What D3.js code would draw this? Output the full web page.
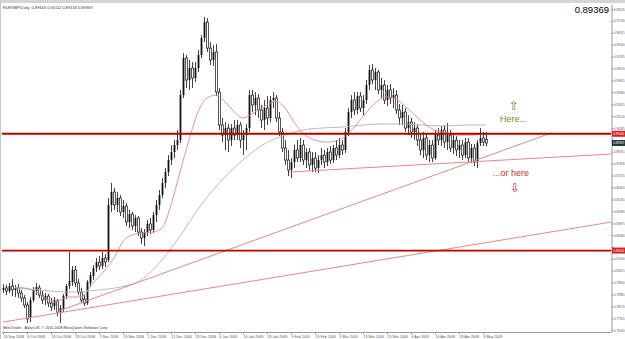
<!DOCTYPE html>
<html>
<head>
<meta charset="utf-8">
<script src="https://cdn.jsdelivr.net/npm/d3@7"></script>
<style>
  body { margin: 0; background: #fff; }
  svg { display: block; font-family: "Liberation Sans", Arial, sans-serif; }
</style>
</head>
<body>
<svg id="chart" width="625" height="339"></svg>
<script>
// EURGBP daily, 24 Sep 2008 .. 11 May 2009
const openP = [
  0.7930,0.7944,0.7923,0.7957,0.7930,0.7944,0.7909,0.7875,0.7827,0.7738,
  0.7861,0.7923,0.7944,0.7895,0.7861,0.7888,0.7840,0.7820,0.7854,0.7779,
  0.7799,0.7888,0.7957,0.7984,0.8067,0.7978,0.7916,0.7868,0.7840,0.7978,
  0.8025,0.8080,0.8121,0.8094,0.8149,0.8135,0.8512,0.8601,0.8512,0.8560,
  0.8464,0.8505,0.8395,0.8450,0.8368,0.8423,0.8327,0.8286,0.8327,0.8382,
  0.8341,0.8443,0.8512,0.8580,0.8663,0.8738,0.8820,0.8875,0.8923,0.8957,
  0.9265,0.9519,0.9368,0.9450,0.9382,0.9450,0.9539,0.9656,0.9765,0.9587,
  0.9505,0.9560,0.9286,0.9060,0.8991,0.9039,0.8957,0.9039,0.8991,0.9060,
  0.8957,0.8991,0.9039,0.9265,0.9197,0.9245,0.9163,0.9094,0.9176,0.9108,
  0.9231,0.9245,0.9108,0.9012,0.8902,0.8820,0.8752,0.8806,0.8889,0.8834,
  0.8923,0.8820,0.8875,0.8786,0.8834,0.8765,0.8820,0.8854,0.8806,0.8875,
  0.8820,0.8902,0.8854,0.8923,0.8889,0.9012,0.9149,0.9231,0.9163,0.9258,
  0.9176,0.9231,0.9334,0.9437,0.9368,0.9423,0.9300,0.9334,0.9231,0.9300,
  0.9245,0.9265,0.9163,0.9108,0.9149,0.9039,0.9080,0.9012,0.9039,0.8957,
  0.8889,0.8971,0.8854,0.8923,0.8834,0.8991,0.8957,0.9026,0.8943,0.8991,
  0.8902,0.8957,0.8889,0.8923,0.8854,0.8943,0.8834,0.8902,0.8806,0.8936,
  0.8971,0.89616
];
const highP = [
  0.7971,0.7964,0.7978,0.8005,0.7964,0.7971,0.7930,0.7895,0.7847,0.7882,
  0.7950,0.7978,0.7964,0.7923,0.7909,0.7902,0.7875,0.7882,0.7868,0.7827,
  0.7902,0.7971,0.8190,0.8094,0.8094,0.8005,0.7944,0.7895,0.7998,0.8053,
  0.8101,0.8149,0.8162,0.8190,0.8176,0.8560,0.8663,0.8628,0.8601,0.8580,
  0.8546,0.8526,0.8478,0.8464,0.8443,0.8436,0.8354,0.8347,0.8409,0.8423,
  0.8464,0.8546,0.8615,0.8697,0.8765,0.8854,0.8923,0.8957,0.9026,0.9300,
  0.9553,0.9539,0.9505,0.9491,0.9491,0.9574,0.9676,0.9800,0.9793,0.9628,
  0.9608,0.9615,0.9313,0.9108,0.9080,0.9067,0.9067,0.9094,0.9094,0.9080,
  0.9026,0.9067,0.9300,0.9300,0.9286,0.9272,0.9197,0.9231,0.9258,0.9258,
  0.9286,0.9265,0.9149,0.9039,0.8957,0.8889,0.8834,0.8923,0.8957,0.8971,
  0.8957,0.8902,0.8902,0.8875,0.8875,0.8854,0.8902,0.8889,0.8902,0.8916,
  0.8923,0.8957,0.8971,0.8957,0.9039,0.9176,0.9265,0.9286,0.9286,0.9286,
  0.9265,0.9368,0.9471,0.9478,0.9450,0.9437,0.9382,0.9368,0.9334,0.9341,
  0.9313,0.9300,0.9204,0.9197,0.9176,0.9128,0.9108,0.9080,0.9060,0.8998,
  0.9012,0.8998,0.8957,0.8957,0.9026,0.9039,0.9053,0.9060,0.9073,0.9026,
  0.8991,0.8984,0.8957,0.8957,0.8971,0.8971,0.8930,0.8930,0.8957,0.9039,
  0.9012,0.90112
];
const lowP = [
  0.7909,0.7895,0.7909,0.7888,0.7882,0.7875,0.7847,0.7806,0.7704,0.7710,
  0.7847,0.7895,0.7875,0.7834,0.7827,0.7813,0.7786,0.7793,0.7751,0.7704,
  0.7779,0.7868,0.7937,0.7957,0.7950,0.7895,0.7840,0.7820,0.7827,0.7950,
  0.7998,0.8053,0.8067,0.8073,0.8087,0.8121,0.8464,0.8478,0.8464,0.8436,
  0.8423,0.8368,0.8354,0.8341,0.8327,0.8299,0.8245,0.8231,0.8299,0.8313,
  0.8320,0.8395,0.8478,0.8560,0.8628,0.8710,0.8786,0.8834,0.8889,0.8936,
  0.9245,0.9313,0.9300,0.9313,0.9354,0.9423,0.9519,0.9628,0.9560,0.9471,
  0.9464,0.9258,0.9026,0.8943,0.8889,0.8875,0.8916,0.8957,0.8957,0.8902,
  0.8854,0.8889,0.9012,0.9149,0.9128,0.9108,0.9039,0.9026,0.9060,0.9080,
  0.9176,0.9080,0.8984,0.8875,0.8786,0.8710,0.8697,0.8765,0.8806,0.8806,
  0.8786,0.8765,0.8752,0.8738,0.8738,0.8731,0.8786,0.8765,0.8779,0.8793,
  0.8799,0.8820,0.8834,0.8854,0.8868,0.8984,0.9108,0.9128,0.9135,0.9149,
  0.9128,0.9204,0.9300,0.9341,0.9300,0.9272,0.9245,0.9204,0.9190,0.9204,
  0.9176,0.9135,0.9060,0.9060,0.9012,0.8991,0.8971,0.8957,0.8916,0.8854,
  0.8834,0.8820,0.8806,0.8806,0.8820,0.8923,0.8916,0.8902,0.8889,0.8875,
  0.8861,0.8847,0.8834,0.8820,0.8834,0.8806,0.8799,0.8779,0.8765,0.8916,
  0.8916,0.89134
];
const closeP = [
  0.7944,0.7923,0.7957,0.7930,0.7944,0.7909,0.7875,0.7827,0.7731,0.7861,
  0.7930,0.7950,0.7895,0.7861,0.7888,0.7840,0.7813,0.7861,0.7779,0.7806,
  0.7888,0.7957,0.7991,0.8067,0.7978,0.7916,0.7861,0.7840,0.7984,0.8032,
  0.8080,0.8121,0.8094,0.8149,0.8121,0.8512,0.8601,0.8512,0.8560,0.8464,
  0.8505,0.8395,0.8450,0.8368,0.8423,0.8327,0.8286,0.8327,0.8382,0.8341,
  0.8443,0.8512,0.8580,0.8663,0.8738,0.8820,0.8875,0.8923,0.8957,0.9265,
  0.9519,0.9368,0.9450,0.9382,0.9450,0.9539,0.9656,0.9765,0.9587,0.9505,
  0.9560,0.9286,0.9060,0.8991,0.9039,0.8957,0.9039,0.8991,0.9060,0.8957,
  0.8991,0.9039,0.9265,0.9197,0.9245,0.9163,0.9094,0.9176,0.9108,0.9231,
  0.9245,0.9108,0.9012,0.8902,0.8820,0.8752,0.8806,0.8889,0.8834,0.8923,
  0.8820,0.8875,0.8786,0.8834,0.8765,0.8820,0.8854,0.8806,0.8875,0.8820,
  0.8902,0.8854,0.8923,0.8889,0.9012,0.9149,0.9231,0.9163,0.9258,0.9176,
  0.9231,0.9334,0.9437,0.9368,0.9423,0.9300,0.9334,0.9231,0.9300,0.9245,
  0.9265,0.9163,0.9108,0.9149,0.9039,0.9080,0.9012,0.9039,0.8957,0.8889,
  0.8971,0.8854,0.8923,0.8834,0.8991,0.8957,0.9026,0.8943,0.8991,0.8902,
  0.8957,0.8889,0.8923,0.8854,0.8943,0.8834,0.8902,0.8806,0.8936,0.8971,
  0.8943,0.89369
];

// one date label every 8 bars
const dateLabels = ["24 Sep 2008","6 Oct 2008","16 Oct 2008","28 Oct 2008","7 Nov 2008",
  "19 Nov 2008","1 Dec 2008","11 Dec 2008","23 Dec 2008","6 Jan 2009","16 Jan 2009",
  "28 Jan 2009","9 Feb 2009","19 Feb 2009","3 Mar 2009","13 Mar 2009","25 Mar 2009",
  "6 Apr 2009","16 Apr 2009","28 Apr 2009","8 May 2009"];
const barsPerLabel = 8;

const priceTicks = [0.98545,0.97730,0.96915,0.96100,0.95285,0.94470,0.93655,0.92840,
  0.92025,0.91210,0.90395,0.89580,0.88765,0.87950,0.87135,0.86320,0.85505,0.84690,
  0.83875,0.83060,0.82245,0.81430,0.80615,0.79800,0.78985,0.78170,0.77355,0.76540];

// moving averages (bar index, price)
const fastMaIdx = [4,10,17,22,26,30,34,37,41,46,50,53,56,59,62,65,68,71,75,80,84,88,91,94,97,
  100,104,108,112,115,118,121,124,128,131,134,138,141,144,148,152,156,161];
const fastMaVal = [0.7950,0.7930,0.7847,0.7882,0.7882,0.7978,0.8067,0.8149,0.8286,0.8320,0.8327,
  0.8354,0.8512,0.8738,0.8957,0.9149,0.9245,0.9265,0.9197,0.9108,0.9149,0.9197,0.9224,0.9176,
  0.9080,0.9005,0.8957,0.8943,0.8957,0.8998,0.9067,0.9142,0.9210,0.9252,0.9238,0.9190,0.9115,
  0.9060,0.9026,0.9005,0.8991,0.8991,0.9005];
const slowMaIdx = [4,12,22,32,39,46,53,59,66,73,80,86,93,100,106,113,120,126,133,140,147,154,161];
const slowMaVal = [0.7944,0.7930,0.7916,0.7930,0.7950,0.7998,0.8135,0.8299,0.8512,0.8683,0.8820,
  0.8916,0.8984,0.9026,0.9039,0.9046,0.9060,0.9067,0.9067,0.9060,0.9053,0.9060,0.9060];

// hand-drawn objects
const levelPrices = [0.9000, 0.8200];
const trendFromIdx = [0, 17.67, 95.33];
const trendFromVal = [0.7710, 0.7779, 0.8738];
const trendToIdx   = [202.67, 182.67, 202.67];
const trendToVal   = [0.8395, 0.9005, 0.8861];

const lastPrice = 0.89369;
const headerText = "EURGBP,Daily  0.89616 0.90112 0.89134 0.89369";

const plotLeft = 2, plotRight = 611, plotTop = 4, plotBottom = 332;
const svg = d3.select("#chart");

const x = d3.scaleLinear().domain([-1/3, 202.67]).range([plotLeft, plotRight]);
const y = d3.scaleLinear().domain([0.7642, 0.9889]).range([plotBottom, plotTop]);

// frame
svg.append("rect").attr("x", 0).attr("y", 0).attr("width", 625).attr("height", 3).attr("fill", "#d4d4d4");
svg.append("line").attr("x1", 0.5).attr("x2", 0.5).attr("y1", 0).attr("y2", 339).attr("stroke", "#c8c8c8");

svg.append("clipPath").attr("id", "plot")
  .append("rect").attr("x", plotLeft).attr("y", plotTop)
  .attr("width", plotRight - plotLeft).attr("height", plotBottom - plotTop);
const plot = svg.append("g").attr("clip-path", "url(#plot)");

// candles: black = up, white = down
const bars = d3.range(openP.length);
const px = i => Math.round(x(i)) + 0.5;
const candle = plot.append("g").selectAll("g").data(bars).join("g");
candle.append("line")
  .attr("x1", px).attr("x2", px)
  .attr("y1", i => y(highP[i])).attr("y2", i => y(lowP[i]))
  .attr("stroke", "#111").attr("stroke-width", 0.8);
candle.append("rect")
  .attr("x", i => px(i) - 0.9).attr("width", 1.8)
  .attr("y", i => y(Math.max(openP[i], closeP[i])))
  .attr("height", i => Math.max(0.6, Math.abs(y(openP[i]) - y(closeP[i]))))
  .attr("fill", i => closeP[i] >= openP[i] ? "#111" : "#fff")
  .attr("stroke", "#111").attr("stroke-width", i => closeP[i] >= openP[i] ? 0 : 0.7);

// moving averages
const ma = d3.line().curve(d3.curveMonotoneX);
plot.append("path")
  .attr("d", ma(slowMaIdx.map((d, k) => [x(d), y(slowMaVal[k])])))
  .attr("fill", "none").attr("stroke", "#a9b3bc").attr("stroke-width", 0.9);
plot.append("path")
  .attr("d", ma(fastMaIdx.map((d, k) => [x(d), y(fastMaVal[k])])))
  .attr("fill", "none").attr("stroke", "#d98a8a").attr("stroke-width", 0.9);

// trend lines
plot.append("g").selectAll("line").data(trendFromIdx).join("line")
  .attr("x1", d => x(d)).attr("y1", (d, k) => y(trendFromVal[k]))
  .attr("x2", (d, k) => x(trendToIdx[k])).attr("y2", (d, k) => y(trendToVal[k]))
  .attr("stroke", "#e08a8a").attr("stroke-width", 1);

// horizontal levels
plot.append("g").selectAll("line").data(levelPrices).join("line")
  .attr("x1", plotLeft).attr("x2", plotRight)
  .attr("y1", d => y(d)).attr("y2", d => y(d))
  .attr("stroke", "#b80000").attr("stroke-width", 1.8);

// price tags on the axis
const tags = levelPrices.map(p => ({ v: p, bg: "#d42020" })).concat([{ v: lastPrice, bg: "#1f3a3a" }]);

// price axis, labels hidden where a tag sits
const yAxis = svg.append("g").attr("transform", `translate(${plotRight + 0.5},0)`)
  .call(d3.axisRight(y).tickValues(priceTicks).tickSize(2).tickSizeOuter(0)
    .tickFormat(d3.format(".5f")));
yAxis.select(".domain").attr("stroke", "#9a9a9a");
yAxis.selectAll(".tick line").attr("stroke", "#9a9a9a");
yAxis.selectAll(".tick text").attr("x", 2.5).attr("font-size", "3.3px")
  .attr("textLength", 10.5).attr("lengthAdjust", "spacingAndGlyphs")
  .attr("font-family", "Liberation Sans, Arial, sans-serif").attr("fill", "#555");
yAxis.selectAll(".tick").filter(d => tags.some(t => Math.abs(y(t.v) - y(d)) < 5)).select("text").remove();

// time axis
const xAxis = svg.append("g").attr("transform", `translate(0,${plotBottom + 0.5})`)
  .call(d3.axisBottom(x).tickValues(dateLabels.map((d, k) => k * barsPerLabel))
    .tickSize(2).tickSizeOuter(0).tickFormat((d, k) => dateLabels[k]));
xAxis.select(".domain").attr("stroke", "#9a9a9a").attr("d", `M${plotLeft},0H${plotRight}`);
xAxis.selectAll(".tick line").attr("stroke", "#9a9a9a");
xAxis.selectAll(".tick text").attr("text-anchor", "start").attr("x", 0).attr("y", 3)
  .attr("font-size", "3.6px").attr("font-family", "Liberation Sans, Arial, sans-serif").attr("fill", "#555");

const tag = svg.append("g").selectAll("g").data(tags).join("g")
  .attr("transform", d => `translate(${plotRight + 1},${y(d.v)})`);
tag.append("rect").attr("x", 0).attr("y", -3).attr("width", 13.5).attr("height", 6).attr("fill", d => d.bg);
tag.append("text").attr("x", 1.5).attr("y", 1.4).attr("font-size", "3.3px").attr("fill", "#fff")
  .attr("textLength", 10.5).attr("lengthAdjust", "spacingAndGlyphs")
  .text(d => d3.format(".5f")(d.v));

// texts
svg.append("text").attr("x", 3).attr("y", 9).attr("font-size", "4px").attr("fill", "#333")
  .attr("xml:space", "preserve").text(headerText);
svg.append("text").attr("x", plotRight - 2).attr("y", 13).attr("text-anchor", "end")
  .attr("font-size", "9.5px").attr("fill", "#000").text(d3.format(".5f")(lastPrice));
svg.append("text").attr("x", 3).attr("y", 329).attr("font-size", "3.6px").attr("fill", "#333")
  .text("MetaTrader - Alpari UK, © 2001-2008 MetaQuotes Software Corp.");

svg.append("text").attr("x", 514).attr("y", 110).attr("text-anchor", "middle")
  .attr("font-family", "DejaVu Sans, sans-serif").attr("font-size", "12px").attr("fill", "#5f8a24").text("⇧");
svg.append("text").attr("x", 500).attr("y", 122)
  .attr("font-size", "9px").attr("fill", "#6f9234").text("Here...");
svg.append("text").attr("x", 493).attr("y", 176)
  .attr("font-size", "9px").attr("fill", "#d42a2a").text("...or here");
svg.append("text").attr("x", 515).attr("y", 192).attr("text-anchor", "middle")
  .attr("font-family", "DejaVu Sans, sans-serif").attr("font-size", "12px").attr("fill", "#c81e1e").text("⇩");
</script>
</body>
</html>
